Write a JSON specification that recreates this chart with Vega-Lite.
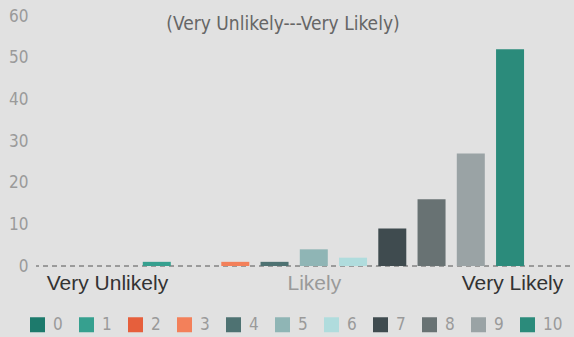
{
  "$schema": "https://vega.github.io/schema/vega-lite/v6.json",
  "width": 534,
  "height": 250,
  "autosize": {"type": "none"},
  "padding": {"left": 36, "top": 16, "right": 4, "bottom": 71},
  "background": "#e1e1e1",
  "config": {"view": {"stroke": null}},
  "title": {
    "text": "(Very Unlikely---Very Likely)",
    "font": "Liberation Sans Narrow, DejaVu Sans Condensed, sans-serif",
    "fontSize": 19,
    "fontWeight": "normal",
    "color": "#666666",
    "anchor": "middle",
    "baseline": "alphabetic",
    "offset": 0,
    "dy": 42,
    "dx": -20
  },
  "data": {
    "values": [
      {"score": 0, "count": 0},
      {"score": 1, "count": 1},
      {"score": 2, "count": 0},
      {"score": 3, "count": 1},
      {"score": 4, "count": 1},
      {"score": 5, "count": 4},
      {"score": 6, "count": 2},
      {"score": 7, "count": 9},
      {"score": 8, "count": 16},
      {"score": 9, "count": 27},
      {"score": 10, "count": 52}
    ]
  },
  "layer": [
    {
      "mark": {"type": "rule", "color": "#9a9a9a", "strokeDash": [5, 4], "strokeWidth": 1},
      "encoding": {"y": {"datum": 0, "type": "quantitative"}}
    },
    {
      "mark": {"type": "bar", "size": 28},
      "encoding": {
        "x": {
          "field": "score",
          "type": "quantitative",
          "scale": {"domain": [-1.95, 11.4], "nice": false, "zero": false},
          "axis": {
            "title": null,
            "values": [-0.27, 5, 10.05],
            "labelExpr": "datum.value < 1 ? 'Very Unlikely' : datum.value < 8 ? 'Likely' : 'Very Likely'",
            "labelFont": "Liberation Sans, Arial, sans-serif",
            "labelFontSize": 21,
            "labelColor": {"condition": {"test": "datum.value == 5", "value": "#9a9a9a"}, "value": "#333333"},
            "labelPadding": 6,
            "labelOverlap": false,
            "labelFlush": false,
            "domain": false,
            "ticks": false,
            "grid": false
          }
        },
        "y": {
          "field": "count",
          "type": "quantitative",
          "scale": {"domain": [0, 60], "nice": false},
          "axis": {
            "title": null,
            "values": [0, 10, 20, 30, 40, 50, 60],
            "labelFont": "Liberation Sans Narrow, DejaVu Sans Condensed, sans-serif",
            "labelFontSize": 17,
            "labelColor": "#9a9a9a",
            "labelPadding": 8,
            "domain": false,
            "ticks": false,
            "grid": false
          }
        },
        "color": {
          "field": "score",
          "type": "nominal",
          "scale": {
            "domain": [0, 1, 2, 3, 4, 5, 6, 7, 8, 9, 10],
            "range": ["#1d7a6c", "#36a08f", "#e65f3c", "#f3805a", "#4e7272", "#8fb5b5", "#b0dcdd", "#3f4b4f", "#687273", "#9aa3a5", "#2b8b7b"]
          },
          "legend": {
            "title": null,
            "orient": "none",
            "legendX": -7,
            "legendY": 300,
            "direction": "horizontal",
            "columns": 11,
            "gridAlign": "all",
            "columnPadding": 5,
            "symbolType": "square",
            "symbolSize": 225,
            "symbolStrokeWidth": 0,
            "symbolOpacity": 1,
            "labelOffset": 7,
            "labelFont": "Liberation Sans Narrow, DejaVu Sans Condensed, sans-serif",
            "labelFontSize": 17,
            "labelColor": "#9a9a9a"
          }
        }
      }
    }
  ]
}
